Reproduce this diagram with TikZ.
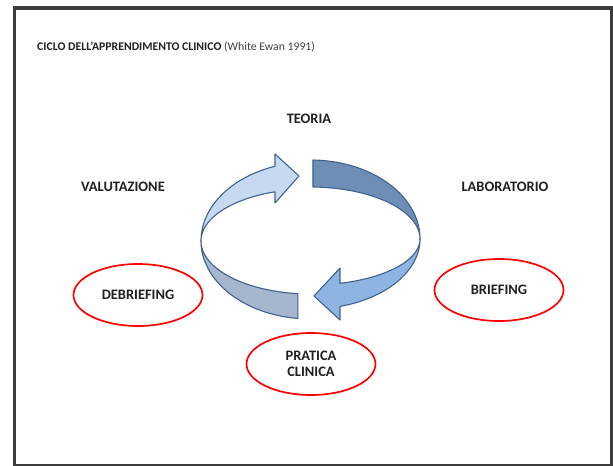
\documentclass[tikz,border=0pt]{standalone}
\usepackage{fontspec}
\setmainfont{Carlito}
\usetikzlibrary{shapes.geometric}
\definecolor{frameC}{HTML}{3C3C3C}
\definecolor{lineC}{HTML}{3F628F}
\definecolor{tlC}{HTML}{C6D9F1}
\definecolor{trC}{HTML}{6E8EB8}
\definecolor{brC}{HTML}{8EB4E3}
\definecolor{blC}{HTML}{A6B6CE}
\definecolor{txtC}{HTML}{202020}
\begin{document}
\begin{tikzpicture}[x=1bp,y=-1bp,
  lbl/.style={font=\bfseries\fontsize{14.5}{17}\selectfont, text=txtC, align=center, inner sep=0pt},
  oval/.style={ellipse, draw=red, line width=1.7bp, minimum width=129bp, minimum height=62bp, inner sep=0pt, font=\bfseries\fontsize{14.5}{17}\selectfont, text=txtC, align=center},
  band/.style={draw=lineC, line width=1.1bp, line join=round}]
\useasboundingbox (0,0) rectangle (613,466);
\fill[white] (0,0) rectangle (613,466);
% frame
\draw[frameC, line width=3.6bp] (14.5,8) rectangle (611.5,465.5);
% title
\node[anchor=west, inner sep=0pt, text=txtC] (title) at (37,47)
  {\fontsize{11.8}{14}\selectfont\textbf{CICLO DELL’APPRENDIMENTO CLINICO} {\color{black!75}(White Ewan 1991)}};
% bottom-left band
\draw[band, fill=blC]
  plot[domain=180:263.4, samples=50] ({310.5+109.5*cos(\x)},{241-53*sin(\x)})
  -- plot[domain=263.4:180, samples=50] ({310.5+109.5*cos(\x)},{241-78*sin(\x)}) -- cycle;
% bottom-right arrow
\draw[band, fill=brC]
  plot[domain=360:285.6, samples=50] ({310.5+109.5*cos(\x)},{239-46*sin(\x)})
  -- (340,268) -- (314,296) -- (340,320)
  -- plot[domain=285.6:360, samples=50] ({310.5+109.5*cos(\x)},{239-70*sin(\x)}) -- cycle;
% top-right band
\draw[band, fill=trC]
  plot[domain=88.7:0, samples=50] ({310.5+109.5*cos(\x)},{239-79*sin(\x)})
  -- plot[domain=0:88.7, samples=50] ({310.5+109.5*cos(\x)},{239-52*sin(\x)}) -- cycle;
% top-left arrow
\draw[band, fill=tlC]
  plot[domain=180:108.9, samples=50] ({310.5+109.5*cos(\x)},{241-79*sin(\x)})
  -- (275,154) -- (299,176) -- (275,203)
  -- plot[domain=108.9:180, samples=50] ({310.5+109.5*cos(\x)},{241-52*sin(\x)}) -- cycle;
% labels
\node[lbl] (teoria) at (309,119) {TEORIA};
\node[lbl] (valutazione) at (123,187) {VALUTAZIONE};
\node[lbl] (laboratorio) at (505,187) {LABORATORIO};
% ovals
\node[oval] (debriefing) at (138,295) {DEBRIEFING};
\node[oval] (briefing) at (499,290) {BRIEFING};
\node[oval] (pratica) at (311,364) {PRATICA\\[-1pt]CLINICA};
\end{tikzpicture}
\end{document}
